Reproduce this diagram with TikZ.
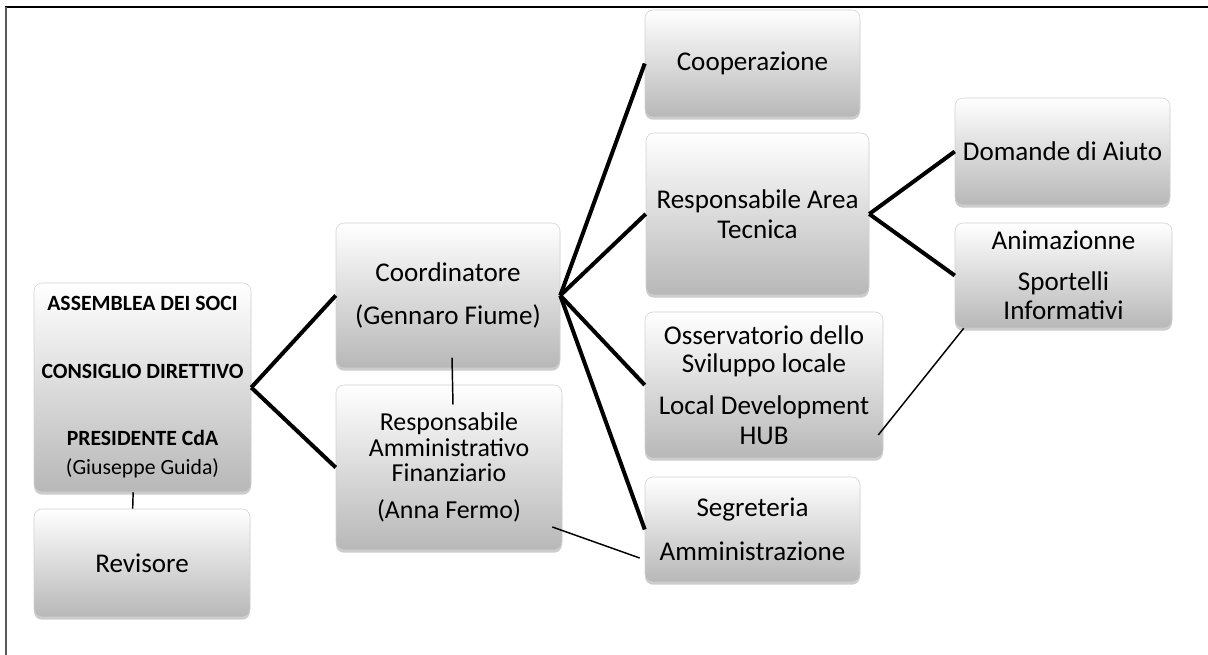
\documentclass[tikz,border=0pt]{standalone}
\usepackage{fontspec}
\setmainfont{Carlito}
\usetikzlibrary{shadows}

\begin{document}
\begin{tikzpicture}[x=0.75pt, y=-0.75pt,
    box/.style={rounded corners=6pt, draw=black!18, top color=white, bottom color=black!28,
      drop shadow={shadow xshift=0pt, shadow yshift=-2pt, opacity=0.4},
      align=center, inner sep=0pt, font=\fontsize{20.3}{21.4}\selectfont},
    link/.style={line width=3pt},
    thin/.style={line width=1.1pt}]
  \useasboundingbox (0,0) rectangle (1208,655);
  \draw[line width=1.5pt] (5,7.5) -- (1208,7.5);
  \draw[line width=1.5pt, black!65] (6,7) -- (6,655);

  \node[box, minimum width=162.75pt, minimum height=156.75pt, font=\fontsize{16.3}{18}\selectfont]
    (assem) at (142.5,387.5) {\textbf{ASSEMBLEA DEI SOCI}\\[32.5pt]\textbf{CONSIGLIO DIRETTIVO}\\[32.5pt]%
      \textbf{PRESIDENTE CdA}\\[4pt](Giuseppe Guida)};
  \node[box, minimum width=162pt, minimum height=81pt] (rev) at (142,563) {Revisore};
  \node[box, minimum width=168pt, minimum height=108.75pt] (coord) at (448,295.5)
    {Coordinatore\\[10.8pt](Gennaro Fiume)};
  \node[box, minimum width=169.5pt, minimum height=123.75pt, font=\fontsize{19.4}{19.1}\selectfont]
    (ramm) at (449,467.5) {Responsabile\\Amministrativo\\Finanziario\\[8.6pt](Anna Fermo)};
  \node[box, minimum width=161.25pt, minimum height=80.25pt] (coop) at (752.5,63.5) {Cooperazione};
  \node[box, minimum width=167.25pt, minimum height=121.5pt] (tecn) at (757.5,214)
    {Responsabile Area\\[1pt]Tecnica};
  \node[box, minimum width=178.5pt, minimum height=109.5pt] (oss) at (764,385)
    {Osservatorio dello\\Sviluppo locale\\[10pt]Local Development\\[1pt]HUB};
  \node[box, minimum width=161.25pt, minimum height=78.75pt] (segr) at (752.5,529.5)
    {Segreteria\\[11.6pt]Amministrazione};
  \node[box, minimum width=161.25pt, minimum height=80.25pt] (dom) at (1062.5,151.5) {Domande di Aiuto};
  \node[box, minimum width=162.75pt, minimum height=78.75pt] (anim) at (1063.5,275.5)
    {Animazionne\\[9.3pt]Sportelli\\Informativi};

  \draw[link] (assem.east) -- (coord.west);
  \draw[link] (assem.east) -- (ramm.west);
  \foreach \t in {coop, tecn, oss, segr}
    \draw[link] (coord.east) -- (\t.west);
  \draw[link] (tecn.east) -- (dom.west);
  \draw[link] (tecn.east) -- (anim.west);

  \draw[thin] ([xshift=-7pt]assem.south) -- ([xshift=-7pt]rev.north);
  \draw[thin] ([xshift=3pt,yshift=8pt]coord.south) -- ([xshift=3pt,yshift=-15pt]ramm.north);
  \draw[thin] ([xshift=-7.5pt,yshift=-44.6pt]ramm.east) -- ([xshift=-3.75pt,yshift=-21.4pt]segr.west);
  \draw[thin] ([xshift=-3.75pt,yshift=-37.5pt]oss.east) -- ([xshift=6.75pt]anim.south west);
\end{tikzpicture}
\end{document}
